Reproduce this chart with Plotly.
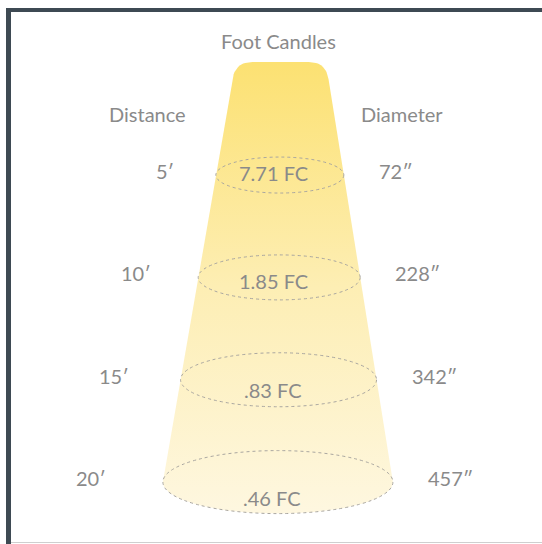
import numpy as np
import plotly.graph_objects as go

# ---- data ----
distances_ft = [5, 10, 15, 20]
distance_labels = ["5′", "10′", "15′", "20′"]
diameter_labels = ["72″", "228″", "342″", "457″"]
foot_candles = ["7.71 FC", "1.85 FC", ".83 FC", ".46 FC"]
title_text = "Foot Candles"
left_header = "Distance"
right_header = "Diameter"

# ---- geometry / style ----
W, H = 542, 544
PX_PER_FT = 20.47
Y0PX = 72.7          # pixel row of distance 0
FONT = dict(family="Lato, 'Open Sans', sans-serif", size=20, color="#8a8a8a")


def xc(d):  # beam axis in px at distance d
    return 280.5 - 0.13 * d


def hw(d):  # beam half-width in px at distance d
    return 47 + 3.4 * d


def ry(d):  # ellipse vertical radius in px
    return 18 + 0.9 * (d - 5)


def px2ft(py):
    return (py - Y0PX) / PX_PER_FT


def ft2px(d):
    return Y0PX + d * PX_PER_FT


d_top = px2ft(62)
d_end = distances_ft[-1]
r = 17


def bez(p0, p1, p2, n=14):
    out = []
    for t in np.linspace(0, 1, n):
        p = (1 - t) ** 2 * np.array(p0) + 2 * (1 - t) * t * np.array(p1) + t ** 2 * np.array(p2)
        out.append(p)
    return out


ytop = ft2px(d_top)
xl_top = xc(d_top) - hw(d_top)
xr_top = xc(d_top) + hw(d_top)
sl = (3.4 + 0.13) / PX_PER_FT
sr = (3.4 - 0.13) / PX_PER_FT

pts = [(xc(d_end) - hw(d_end), ft2px(d_end))]
pts += bez((xl_top - sl * r, ytop + r), (xl_top, ytop), (xl_top + r, ytop))
pts += bez((xr_top - r, ytop), (xr_top, ytop), (xr_top + sr * r, ytop + r))
pts.append((xc(d_end) + hw(d_end), ft2px(d_end)))
for t in np.linspace(0, np.pi, 60):
    pts.append((xc(d_end) + hw(d_end) * np.cos(t), ft2px(d_end) + ry(d_end) * np.sin(t)))
pts.append(pts[0])
xs = [p[0] for p in pts]
ys_ft = [px2ft(p[1]) for p in pts]

fig = go.Figure()
fig.add_trace(go.Scatter(
    x=xs, y=ys_ft, mode="lines", line=dict(width=0, color="rgba(0,0,0,0)"),
    fill="toself",
    fillgradient=dict(type="vertical", start=px2ft(62), stop=px2ft(514),
                      colorscale=[[0, "#FCE172"], [0.5, "#FDEEB4"], [1, "#FEF7E0"]]),
    hoverinfo="skip", showlegend=False,
))

shapes = []
annotations = []
for d, dl, diam, fc in zip(distances_ft, distance_labels, diameter_labels, foot_candles):
    a = hw(d)
    c = xc(d)
    b = ry(d) / PX_PER_FT
    shapes.append(dict(type="circle", xref="x", yref="y", x0=c - a, x1=c + a,
                       y0=d - b, y1=d + b, line=dict(color="#a9a6a0", width=1, dash="dot"),
                       layer="above"))
    ylab = d - 4 / PX_PER_FT
    annotations.append(dict(x=c - a - 40 - 1.0 * (d - 5), y=ylab, text=dl, xref="x", yref="y",
                            xanchor="right", yanchor="middle", showarrow=False, font=FONT))
    annotations.append(dict(x=c + a + 33, y=ylab, text=diam, xref="x", yref="y",
                            xanchor="left", yanchor="middle", showarrow=False, font=FONT))
    annotations.append(dict(x=c - 6, y=d + (-2 + 1.2 * (d - 5)) / PX_PER_FT, text=fc,
                            xref="x", yref="y", xanchor="center", yanchor="middle",
                            showarrow=False, font=FONT))

annotations.append(dict(x=278, y=px2ft(41), text=title_text, xref="x", yref="y",
                        showarrow=False, font=FONT))
annotations.append(dict(x=147, y=px2ft(114), text=left_header, xref="x", yref="y",
                        showarrow=False, font=FONT))
annotations.append(dict(x=402, y=px2ft(114), text=right_header, xref="x", yref="y",
                        showarrow=False, font=FONT))

# frame lines (paper coordinates == pixels with zero margins)
dark = "#3e4a53"
shapes.append(dict(type="rect", xref="paper", yref="paper", x0=6 / W, x1=1, y0=1 - 12 / H, y1=1 - 8 / H,
                   fillcolor=dark, line=dict(width=0)))
shapes.append(dict(type="rect", xref="paper", yref="paper", x0=6 / W, x1=11 / W, y0=0, y1=1 - 8 / H,
                   fillcolor=dark, line=dict(width=0)))
shapes.append(dict(type="line", xref="paper", yref="paper", x0=11 / W, x1=1, y0=1 - 542.5 / H,
                   y1=1 - 542.5 / H, line=dict(color="#cfcfcf", width=1)))

fig.update_layout(
    width=W, height=H, autosize=False,
    margin=dict(l=0, r=0, t=0, b=0),
    paper_bgcolor="white", plot_bgcolor="white",
    xaxis=dict(range=[0, W], visible=False, fixedrange=True),
    yaxis=dict(range=[px2ft(H), px2ft(0)], visible=False, fixedrange=True),
    shapes=shapes, annotations=annotations, showlegend=False,
)

fig.write_html("out.html", config={"displayModeBar": False},
               post_script="document.body.style.margin='0';")
